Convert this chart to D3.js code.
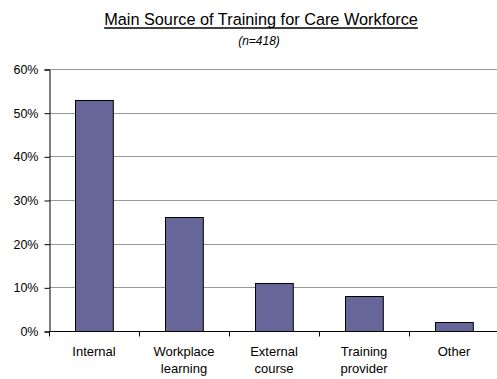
<!DOCTYPE html>
<html>
<head>
<meta charset="utf-8">
<script src="https://cdn.jsdelivr.net/npm/d3@7"></script>
<style>
  body { margin: 0; background: #fff; }
  text { font-family: "Liberation Sans", Arial, sans-serif; }
</style>
</head>
<body>
<div id="chart"></div>
<script>
// chart data
var categories = [["Internal"], ["Workplace", "learning"], ["External", "course"], ["Training", "provider"], ["Other"]];
var values = [53, 26, 11, 8, 2];
var yTicks = [0, 10, 20, 30, 40, 50, 60];

var width = 497, height = 379;
var margin = {top: 69, right: -2, bottom: 48, left: 49};

var svg = d3.select('#chart')
  .append('svg')
  .attr('width', width)
  .attr('height', height);

var xScale = d3.scaleBand()
  .domain(d3.range(values.length))
  .range([margin.left, width - margin.right])
  .paddingInner(0.58)
  .paddingOuter(0.29);

var yScale = d3.scaleLinear()
  .domain([0, 60])
  .range([height - margin.bottom, margin.top]);

// gridlines
svg.append('g')
  .selectAll('line')
  .data(yTicks.filter(function(d) { return d > 0; }))
  .enter()
  .append('line')
  .attr('x1', margin.left)
  .attr('x2', width)
  .attr('y1', function(d) { return Math.round(yScale(d)) + 0.5; })
  .attr('y2', function(d) { return Math.round(yScale(d)) + 0.5; })
  .attr('stroke', '#999')
  .attr('stroke-width', 1);

// bars
svg.append('g')
  .selectAll('rect')
  .data(values)
  .enter()
  .append('rect')
  .attr('x', function(d, i) { return Math.round(xScale(i)) + 0.5; })
  .attr('y', function(d) { return Math.round(yScale(d)) + 0.5; })
  .attr('width', xScale.bandwidth())
  .attr('height', function(d) { return Math.round(yScale(0)) - Math.round(yScale(d)); })
  .attr('fill', '#666699')
  .attr('stroke', '#000')
  .attr('stroke-width', 1);

// y axis
var yAxis = d3.axisLeft(yScale)
  .tickValues(yTicks)
  .tickSize(5)
  .tickPadding(6)
  .tickFormat(function(d) { return d + '%'; });
svg.append('g')
  .attr('transform', 'translate(' + (margin.left + 0.5) + ',0.5)')
  .call(yAxis)
  .call(function(g) {
    g.select('.domain').attr('stroke', '#000');
    g.selectAll('.tick line').attr('stroke', '#000');
    g.selectAll('text').attr('font-size', 12.5).attr('fill', '#000')
      .attr('font-family', '"Liberation Sans", Arial, sans-serif');
  });

// x axis line + ticks between categories
var x0 = Math.round(yScale(0)) + 0.5;
svg.append('line')
  .attr('x1', margin.left).attr('x2', width)
  .attr('y1', x0).attr('y2', x0)
  .attr('stroke', '#000');
var step = xScale.step();
svg.append('g')
  .selectAll('line')
  .data(d3.range(values.length + 1))
  .enter()
  .append('line')
  .attr('x1', function(i) { return Math.round(margin.left + i * step) + 0.5; })
  .attr('x2', function(i) { return Math.round(margin.left + i * step) + 0.5; })
  .attr('y1', x0)
  .attr('y2', x0 + 5)
  .attr('stroke', '#000');

// category labels
svg.append('g')
  .selectAll('text')
  .data(categories)
  .enter()
  .append('text')
  .attr('text-anchor', 'middle')
  .attr('font-size', 13)
  .attr('x', function(d, i) { return xScale(i) + xScale.bandwidth() / 2; })
  .attr('y', 356)
  .each(function(d) {
    var t = d3.select(this);
    var x = t.attr('x');
    d.forEach(function(line, j) {
      t.append('tspan').attr('x', x).attr('dy', j === 0 ? 0 : 17).text(line);
    });
  });

// title
var title = svg.append('text')
  .attr('x', 261)
  .attr('y', 25)
  .attr('text-anchor', 'middle')
  .attr('font-size', 16.3)
  .text('Main Source of Training for Care Workforce');
var bb = title.node().getBBox();
svg.append('line')
  .attr('x1', bb.x).attr('x2', bb.x + bb.width)
  .attr('y1', 28).attr('y2', 28)
  .attr('stroke', '#000')
  .attr('stroke-width', 1.5);

svg.append('text')
  .attr('x', 259)
  .attr('y', 45)
  .attr('text-anchor', 'middle')
  .attr('font-size', 12)
  .attr('font-style', 'italic')
  .text('(n=418)');
</script>
</body>
</html>
